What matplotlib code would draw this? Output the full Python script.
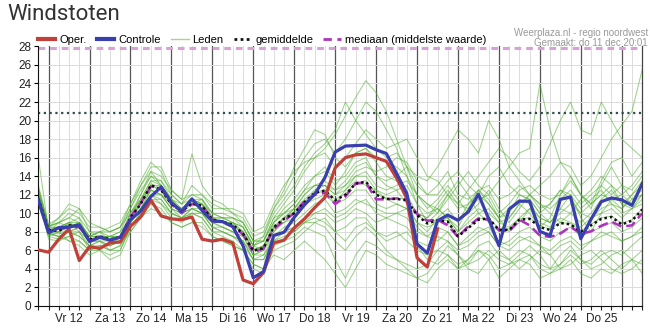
import numpy as np
import matplotlib.pyplot as plt
from matplotlib.lines import Line2D

# 6-hourly steps, first point at do 11 dec 18:00
day_labels = ['Vr 12', 'Za 13', 'Zo 14', 'Ma 15', 'Di 16', 'Wo 17', 'Do 18',
              'Vr 19', 'Za 20', 'Zo 21', 'Ma 22', 'Di 23', 'Wo 24', 'Do 25']

oper = [6.05, 5.8, 7.2, 8.3, 4.9, 6.4, 6.2, 6.8, 6.9, 8.6, 9.6, 11.4, 9.7, 9.4, 9.3,
        9.6, 7.2, 7.0, 7.2, 6.8, 2.8, 2.4, 3.6, 6.8, 7.1, 8.4, 9.4, 10.6, 11.7, 14.9,
        16.0, 16.3, 16.4, 16.0, 15.6, 13.8, 11.6, 5.2, 4.2, 8.3]

controle = [11.45, 7.9, 8.45, 8.5, 8.75, 6.95, 7.4, 7.1, 7.4, 9.3, 10.25, 11.8, 12.85,
            11.15, 10.2, 11.55, 10.3, 9.15, 9.1, 8.55, 6.5, 3.05, 3.7, 7.6, 7.95, 9.55,
            10.9, 12.05, 13.85, 16.6, 17.25, 17.3, 17.35, 16.85, 16.45, 14.3, 12.15,
            6.7, 5.7, 9.2, 9.8, 9.25, 10.15, 12.05, 9.4, 6.5, 10.45, 11.3, 11.3, 8.05,
            7.6, 11.5, 11.75, 7.25, 9.35, 11.25, 11.65, 11.45, 10.85, 13.2]

gemiddelde = [11.6, 8.2, 8.1, 8.7, 8.6, 7.15, 7.5, 7.2, 7.4, 9.5, 11.0, 13.05, 12.5,
              11.0, 10.2, 11.1, 10.8, 9.3, 9.1, 8.75, 7.8, 5.95, 6.25, 8.5, 9.4, 10.0,
              11.2, 12.2, 12.45, 11.4, 12.0, 13.2, 13.4, 12.0, 11.55, 11.55, 11.4, 9.8,
              8.9, 9.25, 9.1, 7.5, 8.4, 9.3, 9.45, 8.2, 8.2, 9.3, 9.4, 8.5, 8.2, 8.95,
              8.8, 8.0, 8.7, 9.4, 9.6, 8.8, 9.2, 10.4]

mediaan = [11.5, 8.1, 8.2, 8.6, 8.5, 7.1, 7.4, 7.2, 7.4, 9.6, 11.1, 12.9, 12.6, 11.0,
           10.0, 11.0, 10.8, 9.3, 9.0, 8.6, 7.7, 5.8, 6.2, 8.3, 9.2, 10.0, 11.3, 12.0,
           12.2, 11.0, 11.8, 13.2, 13.3, 11.5, 11.5, 11.6, 11.5, 9.9, 9.2, 9.3, 8.7,
           7.45, 8.6, 9.45, 9.3, 8.2, 8.05, 9.3, 8.7, 7.6, 7.45, 7.8, 8.55, 7.8, 8.05,
           8.65, 9.1, 8.55, 8.7, 10.0]

leden = [
    [12.5, 8.5, 9.0, 9.5, 9.0, 7.5, 8.0, 7.0, 7.5, 10.0, 12.0, 14.5, 13.0, 11.5, 10.5,
     11.0, 11.5, 9.5, 9.0, 8.5, 8.0, 6.5, 6.0, 9.0, 10.5, 11.5, 13.0, 14.0, 15.0, 13.5,
     14.0, 15.5, 16.0, 14.0, 13.0, 12.5, 11.0, 9.0, 8.0, 9.5, 10.5, 9.0, 11.0, 12.5, 11.0,
     9.5, 10.0, 12.0, 11.5, 10.0, 9.0, 10.5, 12.0, 9.5, 8.0, 10.0, 11.5, 10.5, 12.0, 13.5],
    [11.0, 7.8, 7.5, 8.0, 7.5, 6.5, 7.0, 6.0, 6.5, 8.5, 10.0, 12.0, 11.5, 10.0, 9.5,
     10.5, 10.0, 8.5, 8.0, 7.5, 6.5, 5.0, 5.5, 7.0, 8.0, 8.5, 9.5, 10.0, 10.5, 9.5,
     10.0, 11.0, 11.5, 10.0, 9.5, 9.0, 8.5, 7.0, 6.5, 7.5, 7.0, 6.0, 6.5, 7.5, 8.0,
     6.5, 6.0, 7.0, 7.5, 6.5, 5.5, 6.5, 7.0, 6.0, 7.0, 7.5, 8.0, 7.0, 7.5, 8.5],
    [13.0, 8.8, 9.5, 10.5, 10.0, 8.5, 8.5, 8.0, 8.5, 11.0, 13.5, 15.5, 14.5, 12.0, 11.0,
     13.0, 12.0, 10.5, 10.5, 10.0, 9.5, 7.5, 8.0, 10.5, 12.0, 14.0, 16.0, 17.5, 18.0, 16.5,
     18.0, 20.0, 22.0, 21.0, 19.0, 17.0, 14.0, 11.0, 9.0, 10.0, 12.0, 13.5, 12.0, 10.0, 9.0,
     8.0, 9.5, 11.0, 10.0, 8.5, 9.5, 12.0, 14.0, 12.0, 10.5, 13.0, 15.0, 13.0, 11.5, 12.5],
    [11.5, 7.5, 8.0, 7.0, 6.5, 5.5, 6.0, 5.0, 5.5, 8.0, 9.5, 11.0, 10.5, 9.0, 8.5,
     9.0, 8.5, 7.5, 7.0, 6.5, 6.0, 4.5, 4.0, 6.0, 6.5, 7.0, 8.0, 9.0, 8.5, 7.0,
     6.0, 7.5, 8.5, 7.5, 6.0, 5.0, 4.5, 4.0, 4.5, 6.0, 7.0, 5.5, 4.5, 5.0, 6.0,
     5.0, 4.5, 5.5, 6.5, 5.5, 4.0, 4.5, 5.5, 4.5, 5.0, 6.0, 5.0, 4.0, 5.0, 6.0],
    [12.0, 8.2, 8.5, 9.0, 9.5, 7.0, 7.5, 7.5, 8.0, 9.5, 11.5, 13.5, 13.5, 11.5, 10.0,
     11.5, 11.0, 9.5, 9.5, 9.0, 8.5, 6.5, 7.0, 9.5, 11.0, 12.5, 14.5, 16.0, 17.0, 18.5,
     20.5, 22.5, 24.3, 23.0, 21.0, 18.0, 15.0, 12.0, 10.5, 11.5, 13.0, 11.5, 10.0, 11.0, 12.5,
     10.5, 9.0, 10.5, 12.0, 11.0, 10.0, 9.0, 10.0, 11.5, 12.5, 14.0, 13.0, 11.0, 10.5, 12.0],
    [11.0, 8.0, 8.0, 8.5, 9.0, 7.5, 7.5, 7.0, 7.0, 9.0, 10.5, 12.5, 12.0, 11.0, 10.5,
     11.0, 10.5, 9.0, 9.0, 9.0, 8.0, 6.0, 6.5, 8.5, 9.0, 9.5, 11.0, 12.0, 12.5, 11.0,
     12.5, 14.0, 14.5, 13.0, 12.5, 13.0, 13.5, 12.0, 11.0, 10.0, 11.5, 13.0, 14.5, 13.0, 12.0,
     13.5, 15.0, 16.5, 17.0, 24.0, 19.0, 15.5, 14.0, 12.0, 11.0, 13.5, 15.5, 16.0, 14.0, 15.5],
    [11.5, 8.0, 8.5, 9.0, 8.0, 7.0, 7.5, 7.5, 7.5, 9.5, 11.0, 12.5, 12.0, 10.5, 10.0,
     10.5, 10.0, 9.0, 8.5, 8.0, 7.5, 5.5, 6.0, 8.0, 9.0, 10.0, 11.0, 11.5, 12.0, 11.0,
     11.5, 12.5, 12.5, 11.0, 10.5, 11.0, 10.5, 9.0, 8.5, 9.0, 9.5, 8.0, 9.0, 10.0, 10.5,
     9.0, 9.5, 11.0, 12.0, 13.0, 14.0, 15.5, 15.0, 13.0, 14.0, 16.0, 18.0, 19.5, 21.0, 25.5],
    [12.0, 7.2, 7.0, 7.5, 8.0, 6.0, 6.5, 6.5, 7.0, 9.0, 10.5, 12.0, 11.0, 9.5, 9.0,
     10.0, 9.5, 8.0, 8.0, 7.5, 7.0, 5.0, 5.0, 7.5, 8.0, 8.5, 9.0, 9.0, 9.5, 8.0,
     7.0, 8.5, 9.0, 8.0, 7.0, 7.5, 8.0, 6.5, 5.0, 4.5, 5.5, 4.5, 5.0, 6.5, 7.0,
     5.5, 5.0, 6.0, 5.5, 4.0, 3.5, 4.5, 6.0, 5.0, 4.0, 4.5, 5.5, 6.0, 5.0, 4.5],
    [12.5, 8.5, 8.5, 8.0, 8.5, 7.5, 8.0, 7.5, 8.0, 10.5, 12.5, 14.0, 13.5, 12.0, 11.0,
     12.0, 11.5, 10.0, 9.5, 9.0, 8.5, 6.5, 7.5, 10.0, 11.5, 13.0, 15.0, 16.5, 17.5, 19.0,
     22.0, 20.0, 18.5, 17.0, 16.0, 16.5, 15.0, 13.0, 12.0, 13.0, 14.5, 12.0, 11.5, 12.5, 13.0,
     11.5, 12.0, 13.0, 12.0, 11.0, 10.5, 11.5, 12.5, 11.0, 12.0, 13.0, 12.0, 13.0, 12.5, 14.0],
    [11.0, 7.8, 7.5, 7.0, 7.0, 6.0, 6.0, 5.5, 6.0, 8.5, 10.0, 11.5, 11.0, 10.0, 9.5,
     10.0, 9.5, 8.0, 7.5, 7.0, 6.0, 4.0, 3.5, 6.5, 7.0, 7.5, 8.5, 8.0, 7.5, 5.0,
     3.0, 5.5, 7.0, 6.5, 5.5, 5.0, 4.0, 3.0, 2.5, 4.0, 5.0, 4.0, 4.5, 6.0, 5.0,
     3.0, 4.0, 5.0, 4.5, 3.0, 3.5, 4.0, 5.0, 3.5, 3.0, 4.0, 3.5, 4.5, 5.0, 3.5],
    [11.8, 8.3, 8.0, 9.0, 8.5, 7.0, 7.0, 7.0, 7.0, 9.0, 11.0, 13.0, 12.5, 11.0, 10.0,
     11.0, 11.0, 9.5, 9.0, 9.0, 8.0, 6.0, 6.5, 8.5, 9.5, 10.5, 12.0, 13.0, 13.0, 12.0,
     12.5, 13.5, 13.0, 12.5, 12.0, 12.5, 13.0, 11.0, 10.0, 10.5, 9.5, 8.0, 9.5, 10.5, 10.0,
     9.0, 8.5, 9.5, 10.5, 9.0, 8.5, 9.5, 9.0, 8.5, 9.5, 10.0, 10.5, 9.5, 10.5, 11.5],
    [12.0, 8.0, 9.0, 10.0, 9.5, 8.0, 7.5, 7.0, 7.5, 9.5, 12.0, 14.0, 13.0, 11.0, 10.5,
     11.5, 11.0, 10.0, 10.0, 9.5, 9.0, 7.0, 7.5, 10.5, 12.5, 15.0, 17.0, 19.0, 18.5, 16.0,
     15.0, 16.5, 17.0, 15.5, 14.0, 13.5, 12.0, 10.0, 9.5, 11.0, 12.5, 11.0, 10.5, 11.5, 12.0,
     10.0, 11.0, 12.5, 13.0, 12.0, 11.5, 12.0, 13.5, 12.0, 11.0, 12.0, 11.5, 12.0, 13.0, 14.5],
    [11.2, 7.8, 7.8, 8.0, 8.0, 6.5, 7.0, 6.5, 7.0, 9.0, 10.5, 12.5, 12.0, 10.5, 9.5,
     10.5, 10.0, 8.5, 8.5, 8.0, 7.0, 5.5, 5.5, 7.5, 8.0, 8.0, 9.0, 10.0, 10.0, 9.0,
     9.5, 10.5, 10.0, 9.0, 9.5, 10.0, 10.5, 8.5, 7.5, 7.0, 8.0, 6.5, 7.0, 8.0, 8.5,
     7.0, 6.5, 7.5, 7.0, 6.5, 6.0, 7.0, 7.5, 6.5, 7.0, 8.0, 7.5, 7.0, 7.5, 8.0],
    [12.5, 8.5, 9.5, 11.0, 10.5, 9.0, 8.5, 8.0, 8.5, 10.5, 13.0, 15.0, 15.0, 12.5, 11.5,
     16.4, 13.0, 11.5, 11.0, 10.0, 9.0, 7.0, 7.0, 9.5, 10.0, 11.0, 12.5, 13.0, 13.5, 12.5,
     13.0, 14.5, 15.0, 14.5, 15.0, 16.0, 15.5, 13.5, 12.0, 12.0, 13.5, 14.5, 13.0, 12.0, 14.0,
     15.0, 13.0, 12.0, 11.5, 10.0, 11.0, 12.5, 12.0, 10.5, 11.5, 12.5, 11.0, 10.5, 11.5, 12.0],
    [11.0, 7.5, 7.2, 7.5, 7.0, 6.0, 6.5, 6.0, 6.5, 8.0, 9.5, 10.5, 10.0, 9.0, 8.5,
     9.0, 9.0, 7.5, 7.0, 6.5, 6.0, 4.5, 4.0, 5.5, 5.0, 6.0, 7.0, 6.0, 5.0, 3.5,
     2.0, 4.0, 6.0, 5.5, 4.5, 4.0, 3.5, 3.0, 3.5, 5.0, 6.5, 5.5, 4.0, 3.5, 5.0,
     6.0, 5.0, 4.0, 5.0, 6.0, 5.5, 4.0, 4.5, 5.5, 6.0, 5.0, 4.0, 3.5, 4.0, 5.0],
    [12.2, 8.6, 9.0, 8.5, 9.0, 7.5, 8.0, 8.0, 8.5, 10.0, 11.5, 13.5, 13.0, 11.5, 11.0,
     11.5, 11.5, 10.0, 9.5, 9.5, 9.0, 7.0, 7.0, 9.0, 10.0, 11.0, 12.5, 14.0, 14.5, 13.0,
     14.5, 16.5, 17.0, 16.0, 15.5, 15.0, 14.0, 12.0, 11.0, 10.5, 9.5, 8.5, 10.5, 12.5, 11.5,
     9.5, 8.0, 9.0, 10.5, 9.5, 9.0, 10.5, 10.0, 9.0, 10.0, 11.5, 12.5, 11.0, 12.0, 13.0],
    [11.5, 8.0, 8.5, 8.5, 9.0, 7.0, 7.5, 7.0, 7.5, 9.5, 11.0, 13.0, 12.5, 11.0, 10.5,
     11.0, 10.5, 9.5, 9.0, 8.5, 8.0, 6.0, 6.5, 8.0, 9.5, 10.5, 11.5, 12.5, 13.0, 12.0,
     13.0, 14.0, 14.0, 12.5, 11.5, 11.0, 10.5, 10.0, 9.5, 10.5, 12.0, 11.0, 12.5, 14.0, 15.5,
     17.0, 16.0, 14.5, 13.5, 15.0, 17.5, 20.0, 22.0, 19.0, 18.5, 22.0, 20.0, 18.0, 17.0, 16.0],
    [11.3, 7.9, 8.0, 8.0, 8.5, 7.0, 7.0, 6.5, 7.0, 9.0, 10.5, 12.0, 12.0, 10.5, 10.0,
     10.5, 10.5, 9.0, 8.5, 8.0, 7.5, 5.5, 6.0, 7.5, 8.5, 9.0, 10.0, 11.0, 11.5, 10.0,
     10.5, 11.5, 11.0, 10.5, 10.0, 10.0, 9.5, 8.0, 7.5, 8.5, 8.0, 6.5, 7.5, 8.5, 8.0,
     6.5, 7.0, 8.0, 8.5, 7.5, 7.0, 8.0, 8.5, 7.5, 8.0, 8.5, 9.0, 8.0, 8.5, 9.5],
    [12.0, 8.4, 8.5, 9.0, 9.0, 7.5, 7.5, 7.5, 7.5, 10.0, 11.5, 13.0, 13.0, 11.5, 10.5,
     11.5, 11.0, 9.5, 9.5, 9.5, 8.5, 6.5, 7.0, 9.0, 10.0, 10.5, 12.0, 13.0, 13.0, 12.5,
     13.5, 15.0, 15.5, 14.0, 13.5, 14.0, 15.0, 14.0, 13.5, 15.0, 17.0, 19.0, 18.0, 16.5, 20.0,
     18.0, 15.0, 13.5, 12.0, 10.5, 11.0, 12.5, 11.5, 10.0, 11.0, 12.0, 13.0, 12.0, 11.0, 12.0],
    [11.5, 7.8, 7.5, 8.0, 7.5, 6.5, 6.5, 6.0, 6.0, 8.5, 10.0, 11.5, 11.5, 10.0, 9.5,
     10.0, 10.0, 8.5, 8.0, 7.5, 7.0, 5.0, 5.0, 7.0, 7.5, 8.0, 9.0, 9.5, 9.0, 8.0,
     8.5, 9.5, 9.5, 8.0, 7.5, 8.0, 7.0, 6.0, 5.5, 6.0, 5.5, 4.0, 5.0, 6.0, 5.5,
     4.0, 4.5, 5.0, 5.5, 4.5, 4.0, 5.5, 6.5, 5.0, 4.5, 5.5, 6.0, 5.5, 6.5, 7.5],
    [12.8, 8.6, 9.0, 9.5, 10.5, 8.0, 8.0, 8.5, 9.0, 11.0, 13.0, 14.5, 14.0, 12.5, 11.5,
     12.0, 12.0, 11.0, 10.5, 10.5, 10.0, 8.0, 8.5, 11.0, 13.0, 14.5, 15.5, 16.0, 16.5, 15.0,
     16.0, 17.5, 19.0, 18.0, 17.0, 17.5, 18.0, 16.0, 14.0, 13.5, 12.0, 10.5, 11.0, 12.0, 11.0,
     9.5, 10.5, 11.5, 11.0, 9.5, 9.0, 10.0, 11.0, 10.0, 9.5, 10.5, 11.0, 10.0, 10.5, 11.0],
    [16.0, 8.1, 8.3, 8.8, 8.7, 7.2, 7.6, 7.3, 7.4, 9.6, 11.2, 13.2, 12.7, 11.2, 10.3,
     11.2, 10.9, 9.4, 9.2, 8.8, 7.9, 6.1, 6.4, 8.6, 9.5, 10.2, 11.3, 12.3, 12.5, 11.5,
     12.1, 13.3, 13.5, 12.1, 11.6, 11.6, 11.5, 9.9, 9.0, 9.3, 9.2, 7.6, 8.5, 9.4, 9.5,
     8.3, 8.3, 9.4, 9.5, 8.6, 8.3, 9.0, 8.9, 8.1, 8.8, 9.5, 9.7, 8.9, 9.3, 10.5],
]

n = len(gemiddelde)
x = np.arange(n)

plt.rcParams['font.family'] = ['Liberation Sans', 'DejaVu Sans']
fig = plt.figure(figsize=(6.5, 3.29), dpi=100)
fig.patch.set_facecolor('white')
ax = fig.add_axes([0.059, 0.07, 0.929, 0.789])

ax.set_xlim(0, n - 1)
ax.set_ylim(0, 28)

# grid: every step light, day boundaries dark
for xi in range(1, n - 1):
    day = (xi - 1) % 4 == 0
    ax.axvline(xi, color='#555555' if day else '#dcdcdc', lw=0.9 if day else 0.7, zorder=0)
for yi in range(2, 28, 2):
    ax.axhline(yi, color='#dcdcdc', lw=0.7, zorder=0)

for m in leden:
    ax.plot(x, m, color='#4fae2e', lw=0.75, alpha=0.55, zorder=1)

ax.axhline(20.8, color='#2f4f4f', lw=1.6, ls=(0, (1, 1.6)), zorder=2)
ax.axhline(27.85, color='#d8a2d8', lw=2.2, ls=(0, (2.2, 1.6)), zorder=2, clip_on=False)

ax.plot(x, mediaan, color='#b030c0', lw=1.8, ls=(0, (4, 2)), zorder=3)
ax.plot(x, gemiddelde, color='#111111', lw=1.8, ls=(0, (1, 1.2)), zorder=4)
ax.plot(np.arange(len(oper)), oper, color='#c0403a', lw=2.3, zorder=5)
ax.plot(x, controle, color='#3a3fae', lw=2.3, zorder=6)

ax.set_yticks(range(0, 29, 2))
ax.xaxis.remove_overlapping_locs = False
ax.set_xticks(range(n))
ax.set_xticklabels([])
ax.tick_params(axis='x', which='major', length=3, width=0.8, color='#222222')
ax.set_xticks([3 + 4 * k for k in range(len(day_labels))], minor=True)
ax.set_xticklabels(day_labels, minor=True)
ax.tick_params(axis='x', which='minor', length=0, pad=5, labelsize=8.5, labelcolor='#222222')
ax.tick_params(axis='y', length=3, width=0.8, labelsize=8.5, labelcolor='#222222', pad=2)

ax.spines['top'].set_visible(False)
ax.spines['left'].set_color('#111111')
ax.spines['bottom'].set_color('#111111')
ax.spines['right'].set_color('#444444')
ax.spines['right'].set_linewidth(0.9)

fig.text(0.012, 0.955, 'Windstoten', fontsize=16, color='#333333', va='center',
         family=['Roboto', 'DejaVu Sans'])
fig.text(0.997, 0.9, 'Weerplaza.nl - regio noordwest', fontsize=7, color='#9a9a9a',
         ha='right', va='center')
fig.text(0.997, 0.87, 'Gemaakt: do 11 dec 20:01', fontsize=7, color='#9a9a9a',
         ha='right', va='center')

handles = [
    Line2D([], [], color='#c0403a', lw=3),
    Line2D([], [], color='#3a3fae', lw=3),
    Line2D([], [], color='#9fd98a', lw=1),
    Line2D([], [], color='#111111', lw=2, ls=(0, (1, 1.2))),
    Line2D([], [], color='#b030c0', lw=2, ls=(0, (3, 2))),
]
labels = ['Oper.', 'Controle', 'Leden', 'gemiddelde', 'mediaan (middelste waarde)']
fig.legend(handles, labels, loc='center left', bbox_to_anchor=(0.058, 0.878), ncol=5,
           frameon=False, fontsize=8, handlelength=1.6, handletextpad=0.35,
           columnspacing=0.9, borderpad=0, borderaxespad=0)

fig.savefig('out.png', dpi=100)
